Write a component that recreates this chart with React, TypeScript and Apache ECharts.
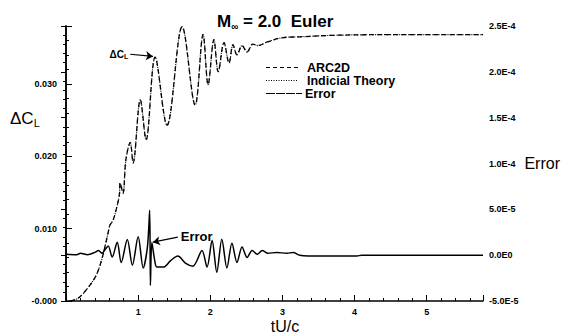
import React, { useEffect, useRef } from 'react';
import * as echarts from 'echarts';

// ---- data ----
const xTickLabels = ['1', '2', '3', '4', '5'];
const leftTickLabels = ['-0.000', '0.010', '0.020', '0.030'];
const legendNames = ['ARC2D', 'Indicial Theory', 'Error'];

// ΔC_L (ARC2D) vs tU/c
const arc2dX = [0.06, 0.17, 0.31, 0.40, 0.45, 0.50, 0.54, 0.585, 0.61, 0.65, 0.695, 0.74, 0.75, 0.79, 0.83, 0.89, 0.93, 1.03, 1.11, 1.235, 1.40, 1.61, 1.79, 1.90, 1.97, 2.05, 2.11, 2.19, 2.26, 2.315, 2.37, 2.44, 2.51, 2.59, 2.66, 2.79, 3.01, 3.24, 3.66, 4.35, 5.78];
const arc2dY = [0.0000, 0.0004, 0.0019, 0.0032, 0.0043, 0.0059, 0.0075, 0.0095, 0.0105, 0.0111, 0.0126, 0.0147, 0.0163, 0.0149, 0.0195, 0.0219, 0.0191, 0.0278, 0.0223, 0.0337, 0.0243, 0.0379, 0.0271, 0.0368, 0.0299, 0.0361, 0.0317, 0.0357, 0.0329, 0.0354, 0.0340, 0.0353, 0.0344, 0.0355, 0.0353, 0.0358, 0.0364, 0.0365, 0.0367, 0.0368, 0.0368];
// Indicial theory lies on top of ARC2D in the picture (indistinguishable)
const indicialY = [0.0000, 0.0004, 0.0019, 0.0032, 0.0043, 0.0059, 0.0075, 0.0095, 0.0105, 0.0111, 0.0126, 0.0147, 0.0163, 0.0149, 0.0195, 0.0219, 0.0191, 0.0278, 0.0223, 0.0337, 0.0243, 0.0379, 0.0271, 0.0368, 0.0299, 0.0361, 0.0317, 0.0357, 0.0329, 0.0354, 0.0340, 0.0353, 0.0344, 0.0355, 0.0353, 0.0358, 0.0364, 0.0365, 0.0367, 0.0368, 0.0368];

// Error (right axis)
const errX = [0, 0.15, 0.2, 0.3, 0.40, 0.45, 0.50, 0.54, 0.585, 0.64, 0.71, 0.765, 0.85, 0.92, 1.00, 1.07, 1.13, 1.16, 1.17, 1.19, 1.23, 1.26, 1.35, 1.45, 1.55, 1.66, 1.76, 1.885, 1.955, 2.025, 2.09, 2.16, 2.23, 2.30, 2.37, 2.44, 2.51, 2.58, 2.65, 2.72, 2.80, 2.92, 3.06, 3.15, 3.24, 3.52, 4.03, 4.10, 5.78];
const errY = [0.1e-5, 0.05e-5, 0.2e-5, 0.05e-5, 0.3e-5, 0.5e-5, 0.2e-5, 0.6e-5, 1.0e-5, -0.2e-5, 1.4e-5, -0.8e-5, 1.7e-5, -1.1e-5, 2.0e-5, -1.4e-5, 1.0e-5, 4.9e-5, -3.3e-5, 1.4e-5, -0.6e-5, -1.3e-5, -1.3e-5, -0.6e-5, -0.1e-5, -0.9e-5, -1.2e-5, 0.5e-5, -1.3e-5, 1.6e-5, -1.85e-5, 1.75e-5, -1.4e-5, 1.3e-5, -0.8e-5, 0.9e-5, -0.25e-5, 0.5e-5, 0.1e-5, 0.5e-5, 0.2e-5, 0.3e-5, 0.2e-5, 0.3e-5, 0.0, -0.1e-5, -0.1e-5, 0.0, 0.0];

// annotation arrows: [start, end] in data coordinates
const dclArrow = [[0.89, 0.0341], [1.205, 0.0338]];
const errArrow = [[1.55, 1.96e-5], [1.205, 1.42e-5]];

const FONT = 'Arial, "Liberation Sans", Helvetica, sans-serif';

export default function App() {
  const ref = useRef<HTMLDivElement>(null);
  useEffect(() => {
    if (!ref.current) return;
    const chart = echarts.init(ref.current, null, { renderer: 'svg' });
    const zip = (xs: number[], ys: number[]) => xs.map((x, i) => [x, ys[i]]);
    const tickLabel = { color: '#000', fontFamily: FONT, fontSize: 9, fontWeight: 'bold' as const };
    const axisLine = { show: true, lineStyle: { color: '#000', width: 1.5 } };

    // legend drawn as graphic rows (sample line + label)
    const legendDash = [[4, 3], [1, 1.5], [9, 1]];
    const legendRows: any[] = [];
    legendNames.forEach((name, i) => {
      const y = 67.5 + i * 13;
      legendRows.push({
        type: 'line', shape: { x1: 266, y1: y, x2: i === 2 ? 302 : 298, y2: y },
        style: { stroke: '#000', lineWidth: 1.2, lineDash: legendDash[i] },
      });
      legendRows.push({
        type: 'text', x: i === 2 ? 305 : 307, y,
        style: { text: name, fontSize: 12.5, fontWeight: 'bold', fontFamily: FONT, fill: '#000', textVerticalAlign: 'middle' },
      });
    });

    chart.setOption({
      animation: false,
      backgroundColor: '#fff',
      textStyle: { fontFamily: FONT },
      title: {
        text: '{m|M}{s|∞}{m| = 2.0  Euler}',
        left: 212,
        top: 6,
        textStyle: {
          rich: {
            m: { fontSize: 17, fontWeight: 'bold', fontFamily: FONT, color: '#000', lineHeight: 20 },
            s: { fontSize: 10, fontWeight: 'bold', fontFamily: FONT, color: '#000', lineHeight: 8, verticalAlign: 'bottom' },
          },
        },
      },
      grid: { left: 66, right: 85, top: 26, bottom: 34, containLabel: false },
      xAxis: [
        {
          type: 'value', min: 0, max: 5.78, interval: 0.2,
          axisLine: { ...axisLine, onZero: false },
          axisTick: { inside: true, length: 3, lineStyle: { color: '#000' } },
          splitLine: { show: false },
          axisLabel: {
            ...tickLabel, margin: 6,
            formatter: (v: number) => {
              const r = Math.round(v);
              return Math.abs(v - r) < 1e-6 && xTickLabels.includes(String(r)) ? String(r) : '';
            },
          },
        },
        {
          type: 'value', min: 0, max: 5.78, interval: 1, position: 'bottom',
          axisLine: { show: false, onZero: false },
          axisTick: { inside: true, length: 6, lineStyle: { color: '#000' } },
          axisLabel: { show: false },
          splitLine: { show: false },
        },
      ],
      yAxis: [
        {
          type: 'value', min: 0, max: 0.038, interval: 0.002, position: 'left',
          axisLine,
          axisTick: { inside: true, length: 3, lineStyle: { color: '#000' } },
          splitLine: { show: false },
          axisLabel: {
            ...tickLabel, margin: 9,
            formatter: (v: number) => {
              const k = Math.round(v * 100);
              if (Math.abs(v * 100 - k) > 1e-6) return '';
              return leftTickLabels[k] ?? '';
            },
          },
        },
        {
          type: 'value', min: -5e-5, max: 2.5e-4, interval: 5e-5, position: 'right',
          axisLine,
          axisTick: { inside: true, length: 5, lineStyle: { color: '#000' } },
          minorTick: { show: true, splitNumber: 5, length: 3, lineStyle: { color: '#000' } },
          splitLine: { show: false },
          name: 'Error',
          nameLocation: 'middle',
          nameRotate: 0,
          nameGap: 15,
          nameTextStyle: { fontFamily: FONT, fontSize: 16, color: '#000', align: 'left' },
          axisLabel: {
            ...tickLabel, margin: 6,
            formatter: (v: number) => {
              const s = v.toExponential(1).toUpperCase().replace('E+', 'E');
              return s === '-0.0E0' ? '0.0E0' : s;
            },
          },
        },
        {
          type: 'value', min: 0, max: 0.038, interval: 0.01, position: 'left',
          axisLine: { show: false },
          axisTick: { inside: true, length: 6, lineStyle: { color: '#000' } },
          axisLabel: { show: false },
          splitLine: { show: false },
        },
      ],
      series: [
        {
          name: 'ARC2D', type: 'line', xAxisIndex: 0, yAxisIndex: 0,
          data: zip(arc2dX, arc2dY), symbol: 'none', smooth: 0.35,
          lineStyle: { color: '#000', width: 1.3, type: [5, 3] },
          itemStyle: { color: '#000' },
          markLine: {
            silent: true, symbol: ['none', 'arrow'], symbolSize: 7,
            lineStyle: { color: '#000', type: 'solid', width: 1.2 },
            label: {
              show: true, position: 'start', distance: 2,
              formatter: '{a|ΔC}{b|L}',
              rich: {
                a: { fontSize: 10, fontWeight: 'bold', fontFamily: FONT, color: '#000', lineHeight: 12 },
                b: { fontSize: 7, fontWeight: 'bold', fontFamily: FONT, color: '#000', lineHeight: 6, verticalAlign: 'bottom' },
              },
            },
            data: [[{ coord: dclArrow[0] }, { coord: dclArrow[1] }]],
          },
        },
        {
          name: 'Indicial Theory', type: 'line', xAxisIndex: 0, yAxisIndex: 0,
          data: zip(arc2dX, indicialY), symbol: 'none', smooth: 0.35,
          lineStyle: { color: '#000', width: 1.2, type: [1, 2] },
          itemStyle: { color: '#000' },
        },
        {
          name: 'Error', type: 'line', xAxisIndex: 0, yAxisIndex: 1,
          data: zip(errX, errY), symbol: 'none', smooth: 0.3,
          lineStyle: { color: '#000', width: 1.5, type: 'solid' },
          itemStyle: { color: '#000' },
          markLine: {
            silent: true, symbol: ['none', 'arrow'], symbolSize: 7,
            lineStyle: { color: '#000', type: 'solid', width: 1.2 },
            label: {
              show: true, position: 'start', distance: 3,
              formatter: 'Error',
              fontSize: 13, fontWeight: 'bold', fontFamily: FONT, color: '#000',
            },
            data: [[{ coord: errArrow[0] }, { coord: errArrow[1] }]],
          },
        },
      ],
      graphic: [
        ...legendRows,
        {
          type: 'text', left: 10, top: 110,
          style: {
            text: '{a|ΔC}{b|L}',
            fill: '#000',
            rich: {
              a: { fontSize: 17, fontFamily: FONT, fill: '#000', lineHeight: 20 },
              b: { fontSize: 11, fontFamily: FONT, fill: '#000', lineHeight: 9, verticalAlign: 'bottom' },
            },
          },
        },
        {
          type: 'text', x: 285, y: 326,
          style: { text: 'tU/c', fontSize: 16, fontFamily: FONT, fill: '#000', textAlign: 'center', textVerticalAlign: 'middle' },
        },
      ],
    });
    return () => chart.dispose();
  }, []);
  return <div ref={ref} style={{ position: 'fixed', left: 0, top: 0, width: 568, height: 335, background: '#fff' }} />;
}
